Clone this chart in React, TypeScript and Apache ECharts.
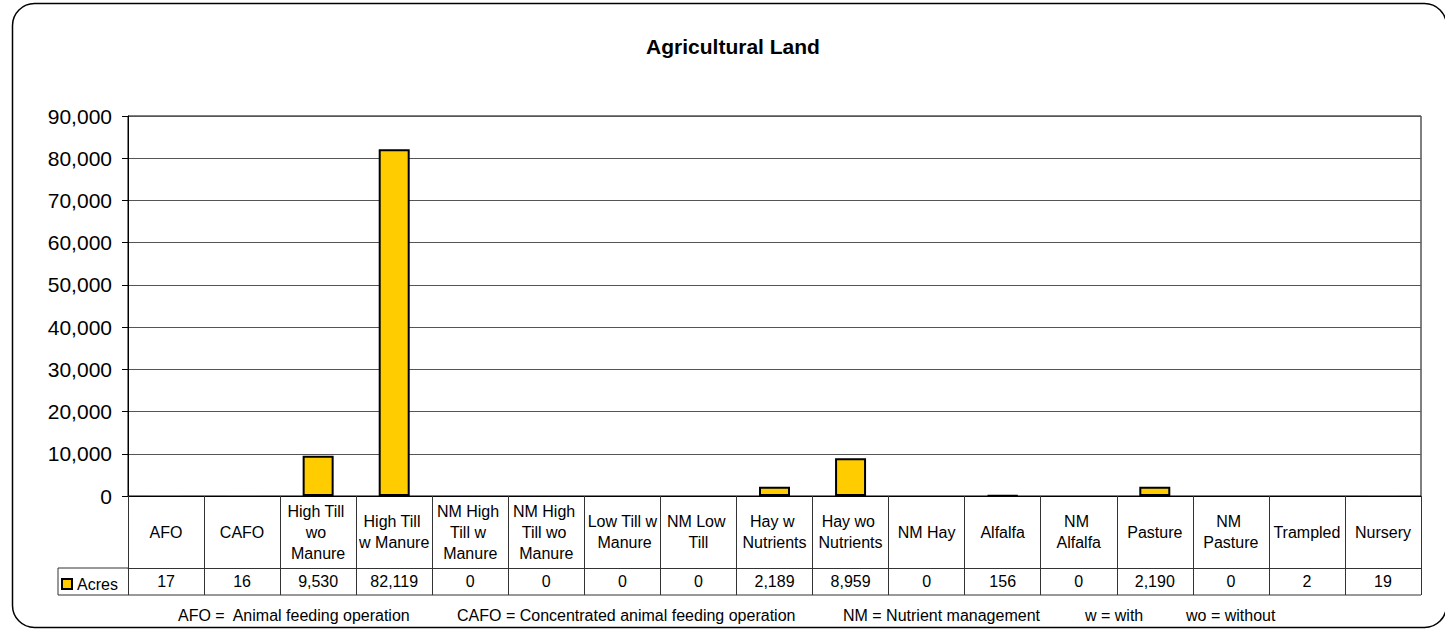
import React, { useEffect, useRef } from "react";
import * as echarts from "echarts";

const chartTitle = "Agricultural Land";
const seriesName = "Acres";
const categories = [
  "AFO",
  "CAFO",
  "High Till wo Manure",
  "High Till w Manure",
  "NM High Till w Manure",
  "NM High Till wo Manure",
  "Low Till w Manure",
  "NM Low Till",
  "Hay w Nutrients",
  "Hay wo Nutrients",
  "NM Hay",
  "Alfalfa",
  "NM Alfalfa",
  "Pasture",
  "NM Pasture",
  "Trampled",
  "Nursery",
];
const acres = [17, 16, 9530, 82119, 0, 0, 0, 0, 2189, 8959, 0, 156, 0, 2190, 0, 2, 19];
const yMin = 0;
const yMax = 90000;
const yInterval = 10000;
const footnotes = [
  "AFO =  Animal feeding operation",
  "CAFO = Concentrated animal feeding operation",
  "NM = Nutrient management",
  "w = with",
  "wo = without",
];

const FONT = "Arial, 'Liberation Sans', sans-serif";
const fmt = (v: number) => v.toLocaleString("en-US");

export default function App() {
  const ref = useRef<HTMLDivElement>(null);

  useEffect(() => {
    if (!ref.current) return;
    const chart = echarts.init(ref.current, undefined, { renderer: "svg" });

    const gridLeft = 128;
    const gridRight = 1421;
    const gridTop = 116;
    const gridBottom = 496;
    const catRowH = 72;
    const valRowH = 27;
    const legendLeft = 58;
    const tableBottom = gridBottom + catRowH + valRowH;
    const footX = [178, 457, 843, 1085, 1186];
    const footY = 615;
    const tableLine = "#333";
    const pxPerUnit = (gridBottom - gridTop) / (yMax - yMin);

    chart.setOption({
      animation: false,
      textStyle: { fontFamily: FONT },
      grid: {
        left: gridLeft,
        right: 1445 - gridRight,
        top: gridTop,
        bottom: 629 - gridBottom,
        show: true,
        borderColor: "#000",
        borderWidth: 1,
        containLabel: false,
      },
      legend: {
        show: true,
        left: legendLeft + 3,
        top: gridBottom + catRowH + 8,
        itemWidth: 10,
        itemHeight: 10,
        icon: "rect",
        padding: 0,
        itemStyle: { color: "#FFCC00", borderColor: "#000", borderWidth: 2 },
        textStyle: { fontSize: 16, color: "#000", fontFamily: FONT },
        data: [seriesName],
      },
      xAxis: [
        {
          type: "category",
          data: categories,
          position: "bottom",
          axisLine: { show: true, lineStyle: { color: "#000", width: 1 } },
          axisTick: {
            show: true,
            alignWithLabel: false,
            interval: 0,
            length: catRowH + valRowH,
            lineStyle: { color: tableLine, width: 1 },
          },
          axisLabel: {
            interval: 0,
            width: 72,
            overflow: "break",
            fontSize: 16,
            lineHeight: 21,
            color: "#000",
            fontFamily: FONT,
            verticalAlign: "middle",
            align: "center",
            margin: catRowH / 2,
          },
          splitLine: { show: false },
        },
        {
          type: "category",
          data: categories,
          position: "bottom",
          offset: catRowH,
          axisLine: { show: true, lineStyle: { color: tableLine, width: 1 } },
          axisTick: { show: false },
          axisLabel: {
            interval: 0,
            fontSize: 16,
            color: "#000",
            fontFamily: FONT,
            verticalAlign: "middle",
            align: "center",
            margin: valRowH / 2,
            formatter: (_v: string, i: number) => fmt(acres[i]),
          },
          splitLine: { show: false },
        },
      ],
      yAxis: {
        type: "value",
        min: yMin,
        max: yMax,
        interval: yInterval,
        axisLine: { show: true, lineStyle: { color: "#000", width: 1 } },
        axisTick: { show: true, length: 6, lineStyle: { color: "#000" } },
        axisLabel: {
          fontSize: 21,
          color: "#000",
          fontFamily: FONT,
          margin: 16,
          formatter: (v: number) => fmt(v),
        },
        splitLine: { show: true, lineStyle: { color: "#555", width: 1 } },
      },
      series: [
        {
          name: seriesName,
          type: "bar",
          xAxisIndex: 0,
          data: acres.map((v) => ({
            value: v,
            itemStyle: v * pxPerUnit < 0.5 ? { borderWidth: 0 } : undefined,
          })),
          barWidth: 31,
          itemStyle: { color: "#FFCC00", borderColor: "#000", borderWidth: 2 },
        },
      ],
      graphic: [
        {
          type: "rect",
          shape: { x: 12.5, y: 3.5, width: 1434, height: 624, r: 22 },
          style: { fill: "none", stroke: "#000", lineWidth: 1.5 },
          silent: true,
          z: -10,
        },
        {
          type: "text",
          x: 733,
          y: 46,
          style: {
            text: chartTitle,
            fontSize: 21,
            fontWeight: "bold",
            fontFamily: FONT,
            fill: "#000",
            textAlign: "center",
            textVerticalAlign: "middle",
          },
        },
        {
          type: "line",
          shape: { x1: legendLeft, y1: gridBottom + catRowH, x2: gridLeft, y2: gridBottom + catRowH },
          style: { stroke: tableLine, lineWidth: 1 },
        },
        {
          type: "line",
          shape: { x1: legendLeft, y1: tableBottom, x2: gridRight, y2: tableBottom },
          style: { stroke: tableLine, lineWidth: 1 },
        },
        {
          type: "line",
          shape: { x1: legendLeft, y1: gridBottom + catRowH, x2: legendLeft, y2: tableBottom },
          style: { stroke: tableLine, lineWidth: 1 },
        },
        ...footnotes.map((t, i) => ({
          type: "text",
          x: footX[i],
          y: footY,
          style: {
            text: t,
            fontSize: 16,
            fontFamily: FONT,
            fill: "#000",
            textAlign: "left",
            textVerticalAlign: "middle",
          },
        })),
      ],
    });

    return () => chart.dispose();
  }, []);

  return (
    <div
      ref={ref}
      style={{ position: "absolute", left: 0, top: 0, width: 1445, height: 629, background: "#fff" }}
    />
  );
}
